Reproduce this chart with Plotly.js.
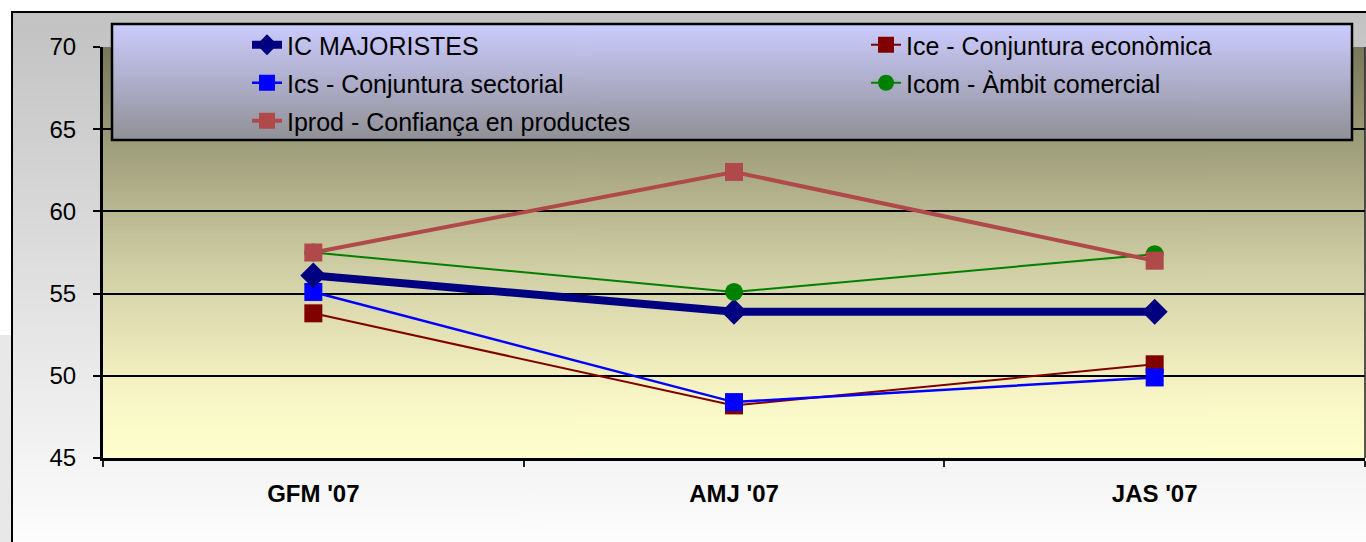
<!DOCTYPE html>
<html>
<head>
<meta charset="utf-8">
<script src="https://cdn.plot.ly/plotly-3.0.1.min.js"></script>
<style>html,body{margin:0;padding:0;background:#fff;}#chart{width:1366px;height:542px;}</style>
</head>
<body>
<div id="chart"></div>
<script>
// ---- data ----
const categories = ["GFM '07", "AMJ '07", "JAS '07"];
const icMajoristes = [56.1, 53.9, 53.9];
const iceConjunturaEconomica = [53.8, 48.2, 50.7];
const icsConjunturaSectorial = [55.1, 48.4, 49.9];
const icomAmbitComercial = [57.5, 55.1, 57.4];
const iprodConfiancaProductes = [57.5, 62.4, 57.0];
const seriesNames = [
  "IC MAJORISTES",
  "Ice - Conjuntura econòmica",
  "Ics - Conjuntura sectorial",
  "Icom - Àmbit comercial",
  "Iprod - Confiança en productes"
];
const yTicks = [45, 50, 55, 60, 65, 70];

// ---- helpers ----
function gradient(stops) {
  const c = document.createElement('canvas');
  c.width = 4; c.height = 512;
  const ctx = c.getContext('2d');
  const g = ctx.createLinearGradient(0, 0, 0, 512);
  stops.forEach(s => g.addColorStop(s[0], s[1]));
  ctx.fillStyle = g;
  ctx.fillRect(0, 0, 4, 512);
  return c.toDataURL('image/png');
}
const W = 1366, H = 542, ML = 103, MR = 1, MT = 47, MB = 84;
const PW = W - ML - MR, PH = H - MT - MB;
const px = v => (v - ML) / PW;
const py = v => (H - MB - v) / PH;

const font = "'Liberation Sans', Arial, sans-serif";

const traces = [
  {name: seriesNames[1], y: iceConjunturaEconomica, color: '#800000', width: 2, symbol: 'square', size: 18, legend: 'legend2', rank: 1},
  {name: seriesNames[2], y: icsConjunturaSectorial, color: '#0000FF', width: 2.5, symbol: 'square', size: 18, legend: 'legend', rank: 2},
  {name: seriesNames[0], y: icMajoristes, color: '#000080', width: 8, symbol: 'diamond', size: 20, legend: 'legend', rank: 1},
  {name: seriesNames[3], y: icomAmbitComercial, color: '#008000', width: 2, symbol: 'circle', size: 18, legend: 'legend2', rank: 2},
  {name: seriesNames[4], y: iprodConfiancaProductes, color: '#B0494A', width: 4, symbol: 'square', size: 18, legend: 'legend', rank: 3}
].map((t, i) => ({
  type: 'scatter',
  mode: 'lines+markers',
  x: categories,
  y: t.y,
  name: t.name,
  legend: t.legend,
  legendgroup: 'g' + i,
  legendrank: t.rank,
  line: {color: t.color, width: t.width},
  marker: {color: t.color, symbol: t.symbol, size: t.size, line: {width: 0}},
  hoverinfo: 'x+y+name'
}));

const legendCommon = {
  bgcolor: 'rgba(0,0,0,0)',
  borderwidth: 0,
  font: {family: font, size: 25, color: '#000'},
  orientation: 'v',
  traceorder: 'grouped',
  tracegroupgap: 2.5,
  xanchor: 'left',
  yanchor: 'top',
  itemclick: false,
  itemdoubleclick: false
};

const layout = {
  width: W, height: H,
  margin: {l: ML, r: MR, t: MT, b: MB, pad: 0},
  paper_bgcolor: '#ffffff',
  plot_bgcolor: 'rgba(0,0,0,0)',
  font: {family: font, color: '#000'},
  xaxis: {
    type: 'category',
    range: [-0.5, 2.5],
    showgrid: false,
    zeroline: false,
    showline: true, linecolor: '#000', linewidth: 3,
    ticks: 'outside', tickson: 'boundaries', ticklen: 6, tickwidth: 2, tickcolor: '#222',
    tickfont: {family: font, size: 24, color: '#000', weight: 'bold'},
    ticklabelstandoff: 12,
    fixedrange: true
  },
  yaxis: {
    range: [45, 70],
    tickvals: yTicks,
    ticktext: yTicks.map(String),
    showgrid: true, gridcolor: '#000', gridwidth: 2,
    zeroline: false,
    showline: true, linecolor: '#000', linewidth: 3,
    ticks: 'outside', ticklen: 7, tickwidth: 2, tickcolor: '#000',
    tickfont: {family: font, size: 24, color: '#000'},
    ticklabelstandoff: 12,
    fixedrange: true
  },
  legend: Object.assign({}, legendCommon, {x: px(247), y: py(22)}),
  legend2: Object.assign({}, legendCommon, {x: px(866), y: py(22)}),
  images: [
    {source: gradient([[0, '#c2c2c2'], [1, '#ffffff']]), xref: 'paper', yref: 'paper',
     x: px(12), y: py(12), sizex: (1370 - 12) / PW, sizey: (560 - 12) / PH,
     xanchor: 'left', yanchor: 'top', sizing: 'stretch', layer: 'below'},
    {source: gradient([[0, '#78785a'], [0.55, '#d2d0a6'], [0.85, '#f8f6c6'], [1, '#ffffcc']]), xref: 'paper', yref: 'paper',
     x: 0, y: 1, sizex: 1, sizey: 1,
     xanchor: 'left', yanchor: 'top', sizing: 'stretch', layer: 'below'},
    {source: gradient([[0, '#ccccff'], [1, '#909096']]), xref: 'paper', yref: 'paper',
     x: px(112), y: py(24), sizex: (1352 - 112) / PW, sizey: (140 - 24) / PH,
     xanchor: 'left', yanchor: 'top', sizing: 'stretch', layer: 'above'}
  ],
  shapes: [
    {type: 'rect', xref: 'paper', yref: 'paper', x0: px(-5), x1: px(11), y0: py(335), y1: py(600),
     fillcolor: '#e8e8e8', line: {width: 0}, layer: 'below'},
    {type: 'rect', xref: 'paper', yref: 'paper', x0: px(12), x1: px(1400), y0: py(600), y1: py(12),
     fillcolor: 'rgba(0,0,0,0)', line: {color: '#000', width: 2}, layer: 'below'},
    {type: 'line', xref: 'paper', yref: 'paper', x0: 1, x1: 1, y0: 0, y1: 1,
     line: {color: '#222', width: 1.5}, layer: 'above'},
    {type: 'rect', xref: 'paper', yref: 'paper', x0: px(112), x1: px(1352), y0: py(140), y1: py(24),
     fillcolor: 'rgba(0,0,0,0)', line: {color: '#000', width: 2.5}, layer: 'above'}
  ],
  showlegend: true,
  hovermode: 'closest'
};

Plotly.newPlot('chart', traces, layout, {displayModeBar: false, staticPlot: false, responsive: false});
</script>
</body>
</html>
